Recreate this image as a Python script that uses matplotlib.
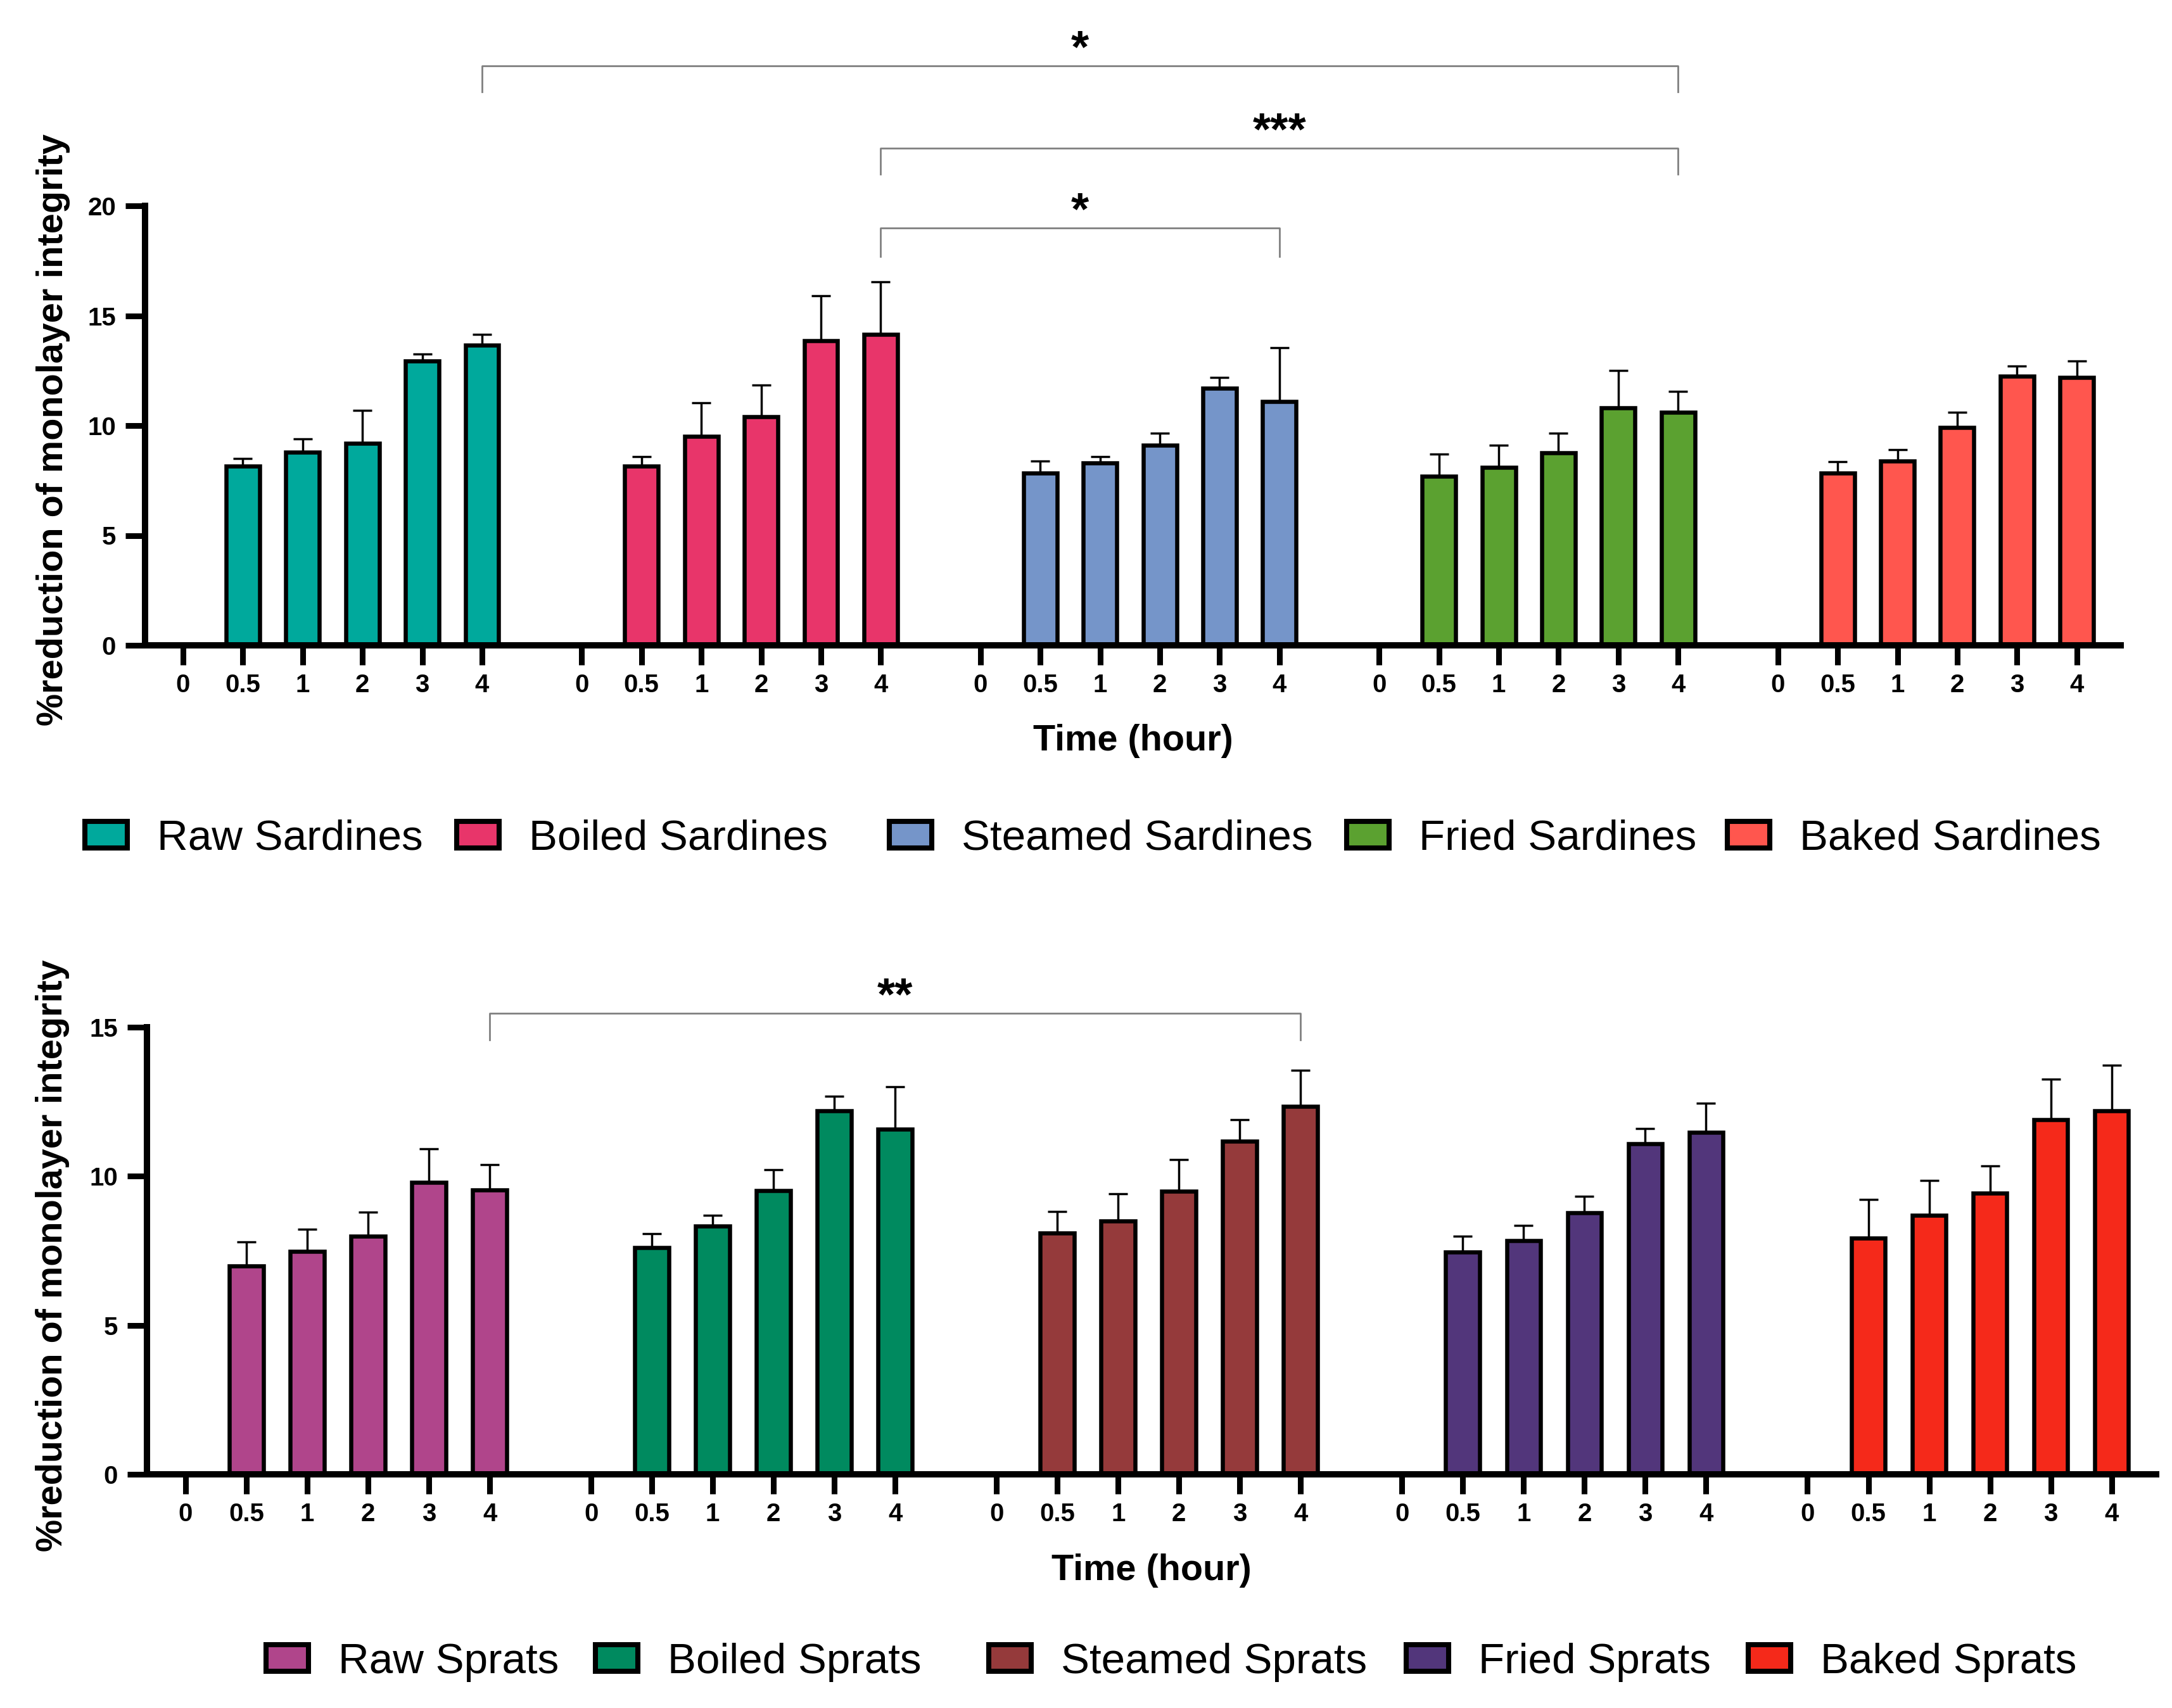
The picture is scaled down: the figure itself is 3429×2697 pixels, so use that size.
import matplotlib
matplotlib.use("Agg")
import matplotlib.pyplot as plt
from matplotlib.patches import Rectangle
import numpy as np

plt.rcParams['font.family'] = ['Liberation Sans', 'DejaVu Sans']

# ---------------- data ----------------
time_labels = ["0", "0.5", "1", "2", "3", "4"]   # tick labels per group (no bar at 0)

sardine_groups = ["Raw Sardines", "Boiled Sardines", "Steamed Sardines",
                  "Fried Sardines", "Baked Sardines"]
sardine_colors = ["#00A99C", "#E8356A", "#7595C9", "#5BA130", "#FF564E"]

raw_sardines_mean = [8.15, 8.8, 9.2, 12.95, 13.65]
raw_sardines_sd = [0.35, 0.6, 1.5, 0.3, 0.5]
boiled_sardines_mean = [8.15, 9.5, 10.4, 13.85, 14.15]
boiled_sardines_sd = [0.45, 1.55, 1.45, 2.05, 2.4]
steamed_sardines_mean = [7.85, 8.3, 9.1, 11.7, 11.1]
steamed_sardines_sd = [0.55, 0.3, 0.55, 0.5, 2.45]
fried_sardines_mean = [7.7, 8.1, 8.75, 10.8, 10.6]
fried_sardines_sd = [1.0, 1.0, 0.9, 1.7, 0.95]
baked_sardines_mean = [7.85, 8.4, 9.9, 12.25, 12.2]
baked_sardines_sd = [0.5, 0.5, 0.7, 0.45, 0.75]

sprat_groups = ["Raw Sprats", "Boiled Sprats", "Steamed Sprats",
                "Fried Sprats", "Baked Sprats"]
sprat_colors = ["#B0458B", "#008A5F", "#953A3B", "#52367B", "#F5291A"]

raw_sprats_mean = [6.98, 7.48, 7.98, 9.8, 9.55]
raw_sprats_sd = [0.82, 0.74, 0.82, 1.12, 0.85]
boiled_sprats_mean = [7.6, 8.32, 9.52, 12.2, 11.57]
boiled_sprats_sd = [0.47, 0.38, 0.7, 0.48, 1.43]
steamed_sprats_mean = [8.1, 8.5, 9.5, 11.18, 12.35]
steamed_sprats_sd = [0.72, 0.92, 1.05, 0.72, 1.2]
fried_sprats_mean = [7.46, 7.85, 8.78, 11.1, 11.47]
fried_sprats_sd = [0.52, 0.51, 0.54, 0.5, 0.98]
baked_sprats_mean = [7.93, 8.7, 9.43, 11.9, 12.2]
baked_sprats_sd = [1.29, 1.16, 0.92, 1.35, 1.52]

# significance brackets: (group a, group b, bracket height, arm end, label) at the 4 h bars
sardine_sig = [(0, 3, 26.37, 25.2, "*"),
               (1, 3, 22.63, 21.45, "***"),
               (1, 2, 18.99, 17.7, "*")]
sprat_sig = [(0, 2, 15.47, 14.58, "**")]

# ---------------- layout ----------------
W, H = 3430, 2697
GROUP_STEP = 6 + 2 / 3


def fx(px):
    return px / W


def fy(py):
    return 1 - py / H


fig = plt.figure(figsize=(W / 100, H / 100), dpi=100)
ax1 = fig.add_axes([fx(229), fy(1019), (3348 - 229) / W, (1019 - 325) / H])
ax2 = fig.add_axes([fx(232), fy(2328), (3404 - 232) / W, (2328 - 1622) / H])


def draw_panel(ax, means, sds, colors, ymax, yticks, sig):
    for g, (m, s, c) in enumerate(zip(means, sds, colors)):
        xs = [g * GROUP_STEP + i + 1 for i in range(len(m))]
        ax.bar(xs, m, width=0.56, color=c, edgecolor="black",
               linewidth=4.7, zorder=2)
        ax.errorbar(xs, m, yerr=[np.zeros(len(s)), s], fmt="none",
                    ecolor="black", elinewidth=2.5, capsize=11,
                    capthick=2.5, zorder=1)
    ticks = [g * GROUP_STEP + i for g in range(len(means))
             for i in range(len(time_labels))]
    ax.set_xticks(ticks)
    ax.set_xticklabels(time_labels * len(means))
    ax.set_xlim(-0.635, 32.4)
    ax.set_ylim(0, ymax)
    ax.set_yticks(yticks)
    ax.set_yticklabels([str(v) for v in yticks])
    for side in ("top", "right"):
        ax.spines[side].set_visible(False)
    for side in ("left", "bottom"):
        ax.spines[side].set_linewidth(7.2)
    ax.tick_params(axis="both", length=22, width=6.5, direction="out",
                   labelsize=29)
    ax.tick_params(axis="x", pad=10)
    ax.tick_params(axis="y", pad=11)
    for lbl in ax.get_xticklabels() + ax.get_yticklabels():
        lbl.set_fontweight("bold")
    for a, b, ytop, yend, label in sig:
        x1 = a * GROUP_STEP + 5
        x2 = b * GROUP_STEP + 5
        ax.plot([x1, x1, x2, x2], [yend, ytop, ytop, yend], color="#808080",
                lw=2.0, clip_on=False, zorder=3)
        ax.annotate(label, xy=((x1 + x2) / 2, ytop), xytext=(0, 4),
                    textcoords="offset points", ha="center", va="baseline",
                    fontsize=52, fontweight="bold", annotation_clip=False)


draw_panel(ax1,
           [raw_sardines_mean, boiled_sardines_mean, steamed_sardines_mean,
            fried_sardines_mean, baked_sardines_mean],
           [raw_sardines_sd, boiled_sardines_sd, steamed_sardines_sd,
            fried_sardines_sd, baked_sardines_sd],
           sardine_colors, 20, [0, 5, 10, 15, 20], sardine_sig)

draw_panel(ax2,
           [raw_sprats_mean, boiled_sprats_mean, steamed_sprats_mean,
            fried_sprats_mean, baked_sprats_mean],
           [raw_sprats_sd, boiled_sprats_sd, steamed_sprats_sd,
            fried_sprats_sd, baked_sprats_sd],
           sprat_colors, 15, [0, 5, 10, 15], sprat_sig)

for ax, xf, yf, xlf in ((ax1, -0.0465, 0.491, -(1170 - 1019) / (1019 - 325)),
                        (ax2, -0.047, 0.489, -(2480 - 2328) / (2328 - 1622))):
    ax.set_ylabel("%reduction of monolayer integrity", fontsize=41.5,
                  fontweight="bold", va="center", ha="center")
    ax.yaxis.set_label_coords(xf, yf)
    ax.set_xlabel("Time (hour)", fontsize=41.5, fontweight="bold",
                  va="center")
    ax.xaxis.set_label_coords(0.5, xlf)

# ---------------- legends ----------------
top_legend_x = [130, 717, 1400, 2122, 2723]
top_legend_y = 1318
bottom_legend_x = [416, 936, 1557, 2216, 2756]
bottom_legend_y = 2618


def draw_legend(labels, colors, xs, cy):
    for label, color, px in zip(labels, colors, xs):
        fig.add_artist(Rectangle((fx(px + 4), fy(cy + 21)), 67 / W, 42 / H,
                                 transform=fig.transFigure, facecolor=color,
                                 edgecolor="black", linewidth=5.8))
        fig.text(fx(px + 118), fy(cy), label, fontsize=48.5,
                 va="center_baseline", ha="left")


draw_legend(sardine_groups, sardine_colors, top_legend_x, top_legend_y)
draw_legend(sprat_groups, sprat_colors, bottom_legend_x, bottom_legend_y)

fig.savefig("out.png", dpi=100, facecolor="white")
